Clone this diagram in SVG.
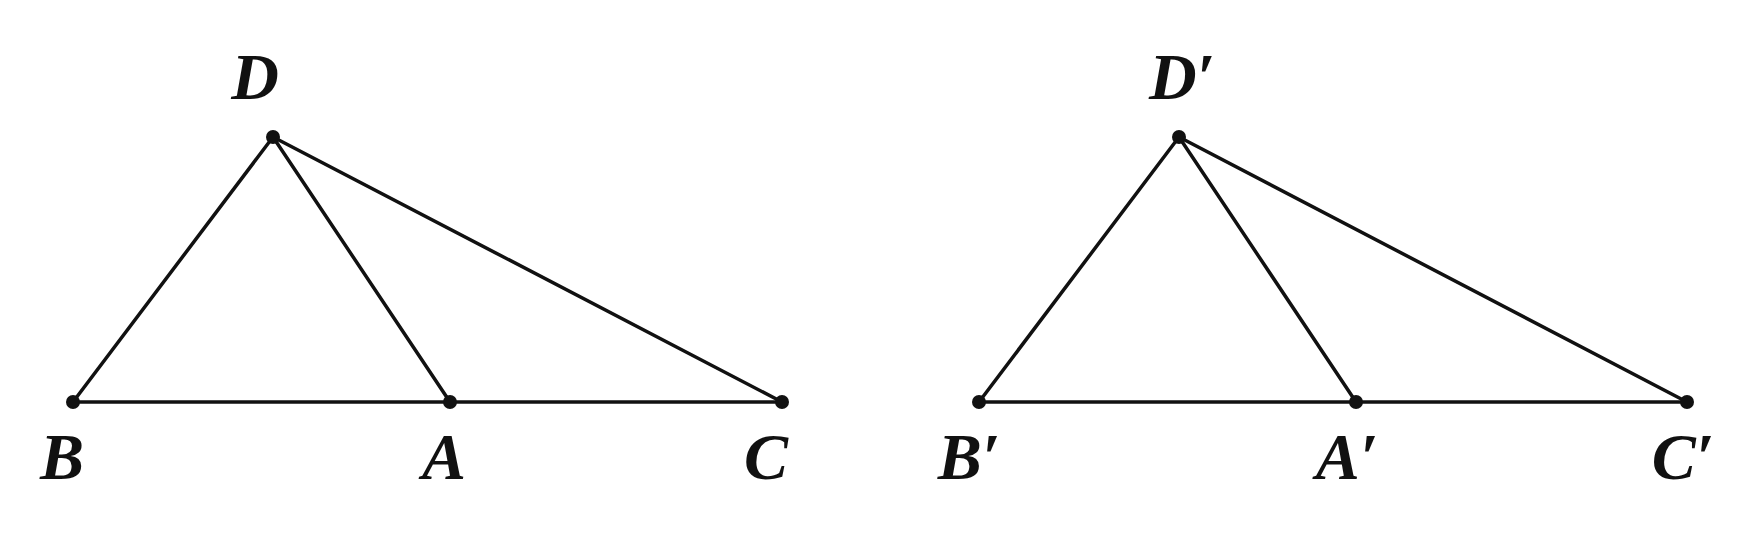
<svg xmlns="http://www.w3.org/2000/svg" width="1760" height="536" viewBox="0 0 1760 536">
<style>
.ln{stroke:#111;stroke-width:3.5;fill:none;stroke-linecap:round}
.pt{fill:#111}
.lb{font-family:"Liberation Serif","Times New Roman",serif;font-style:italic;font-weight:bold;font-size:66px;fill:#111;text-anchor:middle}
</style>
<rect width="1760" height="536" fill="#fff"/>
<g id="connectors">
<line class="ln" x1="273" y1="137" x2="73" y2="402"/>
<line class="ln" x1="273" y1="137" x2="450" y2="402"/>
<line class="ln" x1="273" y1="137" x2="782" y2="402"/>
<line class="ln" x1="73" y1="402" x2="782" y2="402"/>
<line class="ln" x1="1179" y1="137" x2="979" y2="402"/>
<line class="ln" x1="1179" y1="137" x2="1356" y2="402"/>
<line class="ln" x1="1179" y1="137" x2="1687" y2="402"/>
<line class="ln" x1="979" y1="402" x2="1687" y2="402"/>
</g>
<g id="D"><circle class="pt" cx="273" cy="137" r="7"/><text class="lb" x="255" y="99">D</text></g>
<g id="B"><circle class="pt" cx="73" cy="402" r="7"/><text class="lb" x="62" y="479">B</text></g>
<g id="A"><circle class="pt" cx="450" cy="402" r="7"/><text class="lb" x="444" y="479">A</text></g>
<g id="C"><circle class="pt" cx="782" cy="402" r="7"/><text class="lb" x="766" y="479">C</text></g>
<g id="Dp"><circle class="pt" cx="1179" cy="137" r="7"/><text class="lb" x="1182" y="99">D′</text></g>
<g id="Bp"><circle class="pt" cx="979" cy="402" r="7"/><text class="lb" x="969" y="479">B′</text></g>
<g id="Ap"><circle class="pt" cx="1356" cy="402" r="7"/><text class="lb" x="1347" y="479">A′</text></g>
<g id="Cp"><circle class="pt" cx="1687" cy="402" r="7"/><text class="lb" x="1683" y="479">C′</text></g>
</svg>
